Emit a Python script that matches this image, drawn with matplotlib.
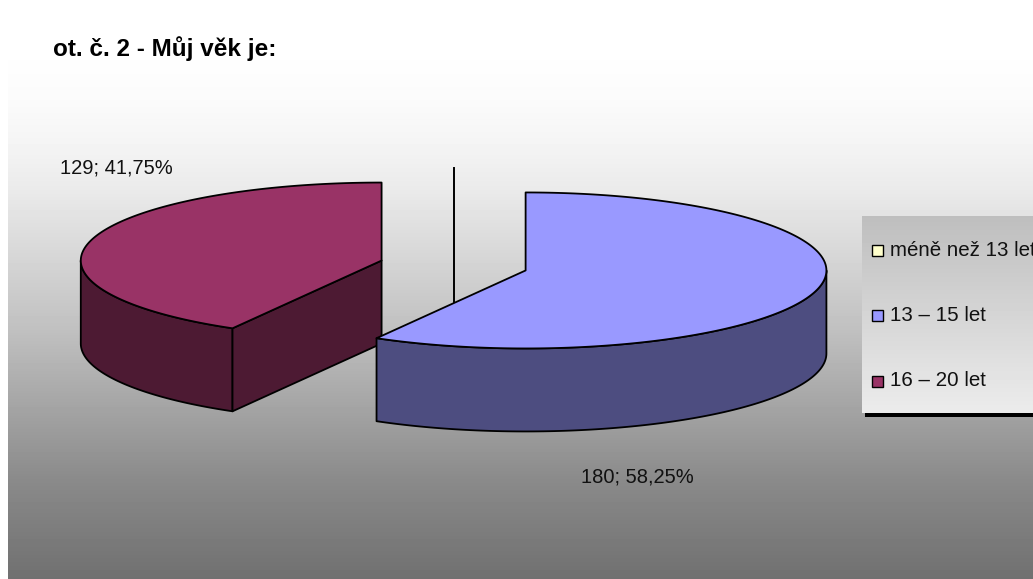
import numpy as np
import matplotlib
matplotlib.use("Agg")
import matplotlib.pyplot as plt
from matplotlib.patches import Polygon, Rectangle

plt.rcParams['font.family'] = ['Liberation Sans', 'DejaVu Sans']

# data
categories = ['méně než 13 let', '13 – 15 let', '16 – 20 let']
values = [0, 180, 129]
colors = ['#ffffcc', '#9999ff', '#993366']
walls = ['#80806a', '#4d4d80', '#4d1a33']

# gradient stops (y pixel, grey level)
bg_y = [0, 60, 100, 150, 190, 330, 480, 579]
bg_grey = [255, 254, 251, 243, 234, 192, 138, 112]
legend_y = [216, 413]
legend_grey = [190, 236]

# pie geometry, in pixels
cx, cy = 453.6, 265.5
rx, ry = 300.8, 78
depth = 83
explode = 74.5


def xy(x0, y0, t):
    return x0 + rx * np.sin(t), y0 - ry * np.cos(t)


def draw_slice(start, end, color, wall):
    mid = (start + end) / 2
    x0 = cx + explode * np.sin(mid)
    y0 = cy - explode * ry / rx * np.cos(mid)
    kw = dict(edgecolor='black', linewidth=1.3, joinstyle='round')

    if start == end:
        x1, y1 = xy(x0, y0, start)
        ax.plot([x1, x0, x0], [y1, y0, y0 + depth], color='black', lw=1.4, zorder=2)
        return

    # outer wall, only the front half of the rim shows
    a = max(start, np.pi / 2)
    b = min(end, np.pi * 1.5)
    if b > a:
        t = np.linspace(a, b, 120)
        xs, ys = xy(x0, y0, t)
        pts = np.r_[np.c_[xs, ys], np.c_[xs, ys + depth][::-1]]
        ax.add_patch(Polygon(pts, closed=True, facecolor=wall, zorder=3, **kw))

    # cut face, seen when it turns towards the viewer
    if np.sin(start) < -1e-6:
        x1, y1 = xy(x0, y0, start)
        pts = [(x0, y0), (x1, y1), (x1, y1 + depth), (x0, y0 + depth)]
        ax.add_patch(Polygon(pts, closed=True, facecolor=wall, zorder=3, **kw))

    # top
    t = np.linspace(start, end, 240)
    xs, ys = xy(x0, y0, t)
    pts = np.r_[[(x0, y0)], np.c_[xs, ys]]
    ax.add_patch(Polygon(pts, closed=True, facecolor=color, zorder=4, **kw))


fig = plt.figure(figsize=(10.33, 5.79), dpi=100)
ax = fig.add_axes([0, 0, 1, 1])
ax.axis('off')

# background
rows = np.arange(0, 579)
grey = np.interp(rows, bg_y, bg_grey)[:, None] / 255
ax.imshow(grey, cmap='gray', vmin=0, vmax=1, aspect='auto',
          extent=(8, 1033, 579, 0), zorder=0)

# legend box and shadow
ax.add_patch(Rectangle((865, 413), 168, 4, facecolor='black', edgecolor='none', zorder=1))
rows = np.arange(legend_y[0], legend_y[1])
grey = np.interp(rows, legend_y, legend_grey)[:, None] / 255
ax.imshow(grey, cmap='gray', vmin=0, vmax=1, aspect='auto',
          extent=(862, 1033, legend_y[1], legend_y[0]), zorder=1)

# slices go clockwise from 12 o'clock
total = sum(values)
angle = 0
bounds = []
for v in values:
    bounds.append((angle, angle + v / total * 2 * np.pi))
    angle = bounds[-1][1]

# back to front
for i in [0, 2, 1]:
    draw_slice(bounds[i][0], bounds[i][1], colors[i], walls[i])

ax.set_xlim(0, 1033)
ax.set_ylim(579, 0)

ax.text(53, 49, 'ot. č. 2 - Můj věk je:', fontsize=17.5, fontweight='bold',
        va='center', ha='left', color='black', zorder=6)


def pie_label(i):
    pct = f'{values[i] / total * 100:.2f}'.replace('.', ',')
    return f'{values[i]}; {pct}%'


ax.text(60, 168, pie_label(2), fontsize=14.5, va='center', ha='left', color='#111111', zorder=6)
ax.text(581, 477, pie_label(1), fontsize=14.5, va='center', ha='left', color='#111111', zorder=6)

# legend entries
for name, color, y in zip(categories, colors, [250, 315.5, 381]):
    ax.add_patch(Rectangle((871.5, y - 5.5), 11, 11, facecolor=color, edgecolor='black',
                           linewidth=1.0, zorder=6))
    ax.text(890, y + 5.5, name, fontsize=14.8, va='baseline', ha='left', color='#111111', zorder=6)

fig.savefig('out.png', dpi=100)
